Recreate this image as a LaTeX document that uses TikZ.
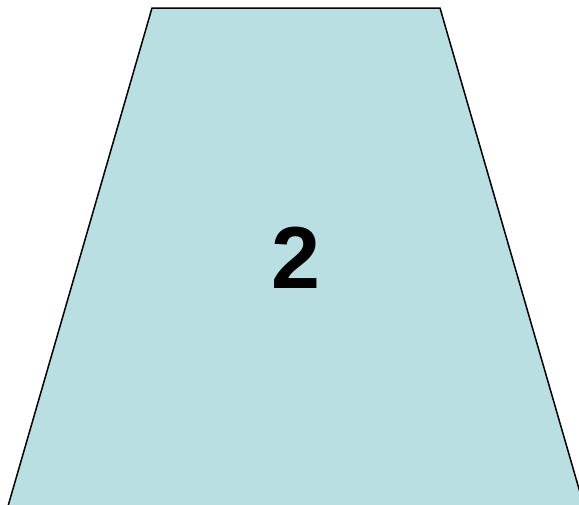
\documentclass[tikz,border=0pt]{standalone}
\usepackage{fontspec}
\setmainfont{Liberation Sans}
\definecolor{trap}{HTML}{BADFE3}
\tikzset{
  slab/.style={draw=black,line width=1.5pt,fill=trap,line join=miter},
  num/.style={font=\fontsize{88}{88}\selectfont\bfseries,inner sep=0pt},
}
\begin{document}
\begin{tikzpicture}[x=1pt,y=-1pt]
  \useasboundingbox (0,0) rectangle (579,504);
  \clip (0,0) rectangle (579,504);
  % ---- trapezoid, cut off at the bottom
  \draw[slab] (152,8) -- (440,8) -- (588,520) -- (4,520) -- cycle;
  \node[num] (lbl) at (296,258) {2};
\end{tikzpicture}
\end{document}
